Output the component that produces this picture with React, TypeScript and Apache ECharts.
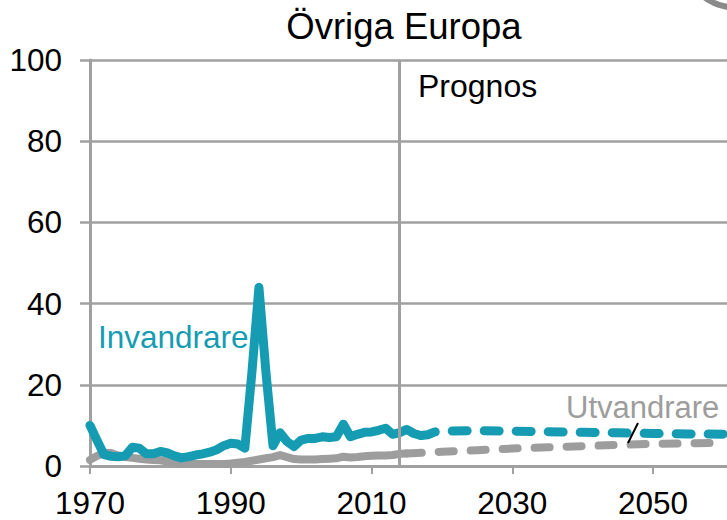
import React, { useEffect, useRef } from "react";
import * as echarts from "echarts";

// Historical immigration (Invandrare), 1970–2017, thousands
const inHistYears = [
  1970, 1971, 1972, 1973, 1974, 1975, 1976, 1977, 1978, 1979,
  1980, 1981, 1982, 1983, 1984, 1985, 1986, 1987, 1988, 1989,
  1990, 1991, 1992, 1993, 1994, 1995, 1996, 1997, 1998, 1999,
  2000, 2001, 2002, 2003, 2004, 2005, 2006, 2007, 2008, 2009,
  2010, 2011, 2012, 2013, 2014, 2015, 2016, 2017,
];
const inHistValues = [
  10, 6.3, 2.8, 2.4, 2.3, 2.5, 4.6, 4.4, 3.0, 3.0,
  3.6, 3.2, 2.5, 2.0, 2.3, 2.7, 3.0, 3.4, 4.0, 5.0,
  5.6, 5.4, 4.4, 23, 44, 23, 5.0, 8.2, 6.0, 4.8,
  6.4, 6.8, 6.8, 7.2, 7.0, 7.2, 10.3, 7.2, 7.8, 8.3,
  8.4, 8.8, 9.3, 7.8, 8.2, 9.0, 8.0, 7.5,
];
// Forecast immigration
const inProgYears = [2017, 2018, 2019, 2020, 2025, 2030, 2035, 2040, 2045, 2050, 2055, 2060];
const inProgValues = [7.5, 7.7, 8.4, 8.6, 8.7, 8.6, 8.45, 8.3, 8.2, 8.0, 7.9, 7.85];

// Historical emigration (Utvandrare)
const outHistYears = [
  1970, 1971, 1972, 1973, 1974, 1975, 1976, 1977, 1978, 1979,
  1980, 1981, 1982, 1983, 1984, 1985, 1986, 1987, 1988, 1989,
  1990, 1991, 1992, 1993, 1994, 1995, 1996, 1997, 1998, 1999,
  2000, 2001, 2002, 2003, 2004, 2005, 2006, 2007, 2008, 2009,
  2010, 2011, 2012, 2013, 2014, 2015,
];
const outHistValues = [
  1.5, 2.5, 3.2, 3.2, 2.6, 2.2, 2.0, 1.8, 1.6, 1.5,
  1.4, 1.1, 0.9, 0.7, 0.6, 0.5, 0.5, 0.5, 0.5, 0.5,
  0.6, 0.8, 1.0, 1.3, 1.6, 1.9, 2.2, 2.7, 2.2, 1.7,
  1.6, 1.6, 1.6, 1.7, 1.8, 1.9, 2.3, 2.1, 2.2, 2.4,
  2.5, 2.6, 2.6, 2.7, 3.0, 3.1,
];
// Forecast emigration
const outProgYears = [2015, 2020, 2025, 2030, 2035, 2040, 2045, 2050, 2055, 2060];
const outProgValues = [3.1, 3.5, 3.9, 4.3, 4.6, 4.9, 5.2, 5.45, 5.6, 5.7];

const xTickLabels = [1970, 1990, 2010, 2030, 2050];
const yTicks = { min: 0, max: 100, interval: 20 };
const forecastStartYear = 2014;

const TEAL = "#159cb2";
const GRAY = "#9d9d9d";
const GRID = "#a0a0a0";
const FONT = "Liberation Sans, Arial, sans-serif";

const pairs = (xs: number[], ys: number[]) => xs.map((x, i) => [x, ys[i]]);

export default function App() {
  const ref = useRef<HTMLDivElement>(null);
  useEffect(() => {
    if (!ref.current) return;
    const chart = echarts.init(ref.current, undefined, { renderer: "svg" });
    const dashStyle = (color: string, width: number) => ({
      color,
      width,
      type: [15, 17] as any,
      cap: "round" as const,
      join: "round" as const,
    });
    const solidStyle = (color: string, width: number) => ({
      color,
      width,
      type: "solid" as const,
      cap: "round" as const,
      join: "round" as const,
    });
    chart.setOption({
      animation: false,
      grid: { left: 90, right: 0, top: 60, bottom: 54, containLabel: false },
      xAxis: {
        type: "value",
        min: 1970,
        max: 2060.5,
        splitLine: { show: false },
        axisLine: { show: true, lineStyle: { color: GRID, width: 3 } },
        axisTick: {
          show: true,
          length: 8,
          customValues: xTickLabels,
          lineStyle: { color: GRID, width: 2 },
        },
        axisLabel: {
          customValues: xTickLabels,
          fontSize: 31.5,
          fontFamily: FONT,
          color: "#000",
          margin: 21,
          formatter: (v: number) => String(v),
        },
      },
      yAxis: {
        type: "value",
        min: yTicks.min,
        max: yTicks.max,
        interval: yTicks.interval,
        splitLine: { show: true, lineStyle: { color: GRID, width: 2.5 } },
        axisLine: { show: true, lineStyle: { color: GRID, width: 3 } },
        axisTick: { show: true, length: 10, lineStyle: { color: GRID, width: 2.5 } },
        axisLabel: {
          fontSize: 31.5,
          fontFamily: FONT,
          color: "#000",
          margin: 28,
        },
      },
      series: [
        {
          type: "line",
          data: pairs(outHistYears, outHistValues),
          showSymbol: false,
          lineStyle: solidStyle(GRAY, 8),
          z: 2,
          markLine: {
            silent: true,
            symbol: "none",
            label: { show: false },
            lineStyle: { color: GRID, width: 3, type: "solid" },
            data: [{ xAxis: forecastStartYear }],
          },
        },
        {
          type: "line",
          data: pairs(outProgYears, outProgValues),
          showSymbol: false,
          lineStyle: dashStyle(GRAY, 8),
          z: 2,
        },
        {
          type: "line",
          data: pairs(inHistYears, inHistValues),
          showSymbol: false,
          lineStyle: solidStyle(TEAL, 9),
          z: 3,
        },
        {
          type: "line",
          data: pairs(inProgYears, inProgValues),
          showSymbol: false,
          lineStyle: dashStyle(TEAL, 9),
          z: 3,
        },
      ],
      graphic: [
        {
          type: "text",
          x: 404,
          y: 26,
          style: {
            text: "Övriga Europa",
            fontSize: 36.5,
            fontFamily: FONT,
            fill: "#000",
            align: "center",
            verticalAlign: "middle",
          },
        },
        {
          type: "text",
          x: 418,
          y: 86,
          style: {
            text: "Prognos",
            fontSize: 32,
            fontFamily: FONT,
            fill: "#000",
            align: "left",
            verticalAlign: "middle",
          },
        },
        {
          type: "text",
          x: 98,
          y: 337,
          style: {
            text: "Invandrare",
            fontSize: 31.5,
            fontFamily: FONT,
            fill: TEAL,
            align: "left",
            verticalAlign: "middle",
          },
        },
        {
          type: "text",
          x: 566,
          y: 407,
          style: {
            text: "Utvandrare",
            fontSize: 31,
            fontFamily: FONT,
            fill: GRAY,
            align: "left",
            verticalAlign: "middle",
          },
        },
        {
          type: "line",
          shape: { x1: 628, y1: 443, x2: 638, y2: 423 },
          style: { stroke: "#000", lineWidth: 2 },
          z: 100,
        },
        {
          type: "circle",
          shape: { cx: 735, cy: -43, r: 50.5 },
          style: { fill: "none", stroke: "#8a8a8a", lineWidth: 6 },
        },
      ],
    });
    return () => chart.dispose();
  }, []);
  return (
    <div
      ref={ref}
      style={{ position: "fixed", left: 0, top: 0, width: 727, height: 520, background: "#fff" }}
    />
  );
}
